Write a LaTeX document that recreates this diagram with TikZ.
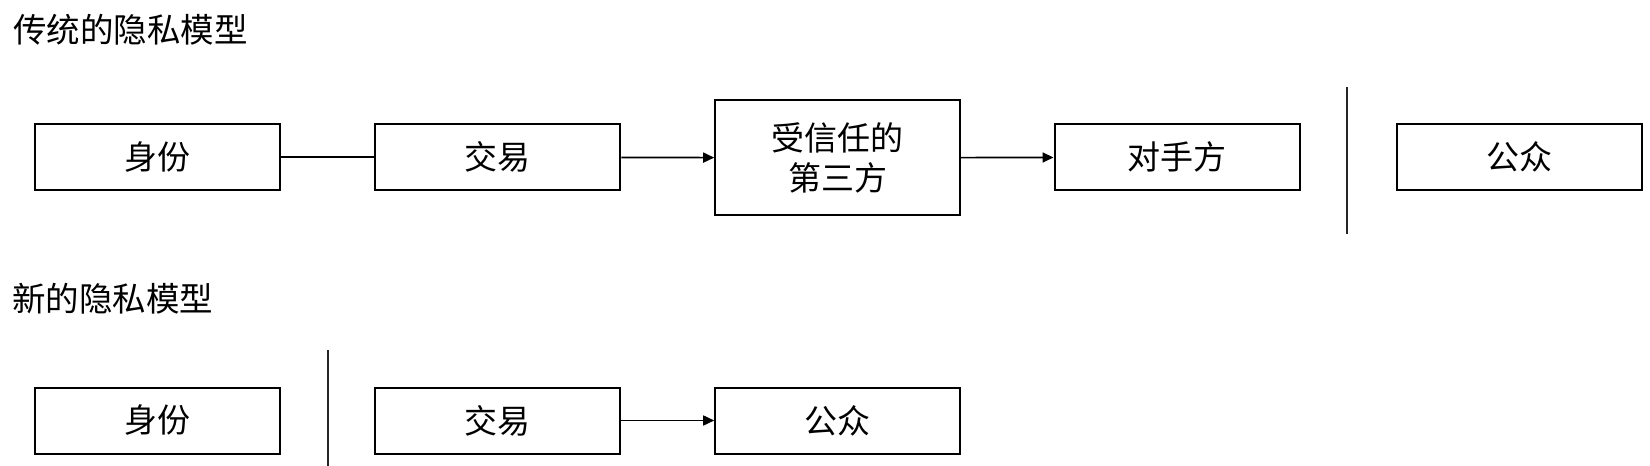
\documentclass[tikz,border=0pt]{standalone}
\usepackage{fontspec}
\newfontfamily\cjk{Noto Sans CJK SC}
\usetikzlibrary{arrows.meta}
\begin{document}
\begin{tikzpicture}[x=1pt,y=-1pt,
  box/.style={draw, line width=2pt, minimum width=245pt, minimum height=66pt, inner sep=0pt,
    font=\cjk\fontsize{33}{40}\selectfont, align=center},
  tall/.style={box, minimum height=115pt},
  title/.style={anchor=west, inner sep=0pt, font=\cjk\fontsize{33.5}{40}\selectfont},
  link/.style={line width=1.7pt},
  arr/.style={line width=1.7pt, -{Triangle[length=11pt,width=10pt]}},
  sep/.style={line width=1.5pt, draw=black!85}]
\useasboundingbox (0,0) rectangle (1650,466);
% titles
\node[title] (t1) at (13,30) {传统的隐私模型};
\node[title] (t2) at (12,299) {新的隐私模型};
% row 1
\node[box] (id1) at (157.4,157.3) {身份};
\node[box] (tx1) at (497.8,157.3) {交易};
\node[tall] (ttp) at (837.7,157.8) {受信任的\\第三方};
\node[box] (cp) at (1177,157.3) {对手方};
\node[box] (pub1) at (1519,157.3) {公众};
\coordinate (s1a) at (1347,87);
\coordinate (s1b) at (1347,233.5);
\draw[sep] (s1a) -- (s1b);
\draw[link] (id1) -- (tx1);
\draw[arr] (tx1) -- (ttp);
\draw[arr] (ttp) -- (cp);
% row 2
\node[box] (id2) at (157.4,420.5) {身份};
\node[box] (tx2) at (497.8,420.5) {交易};
\node[box] (pub2) at (837.7,420.5) {公众};
\coordinate (s2a) at (328,350);
\coordinate (s2b) at (328,466);
\draw[sep] (s2a) -- (s2b);
\draw[arr] (tx2) -- (pub2);
\end{tikzpicture}
\end{document}
